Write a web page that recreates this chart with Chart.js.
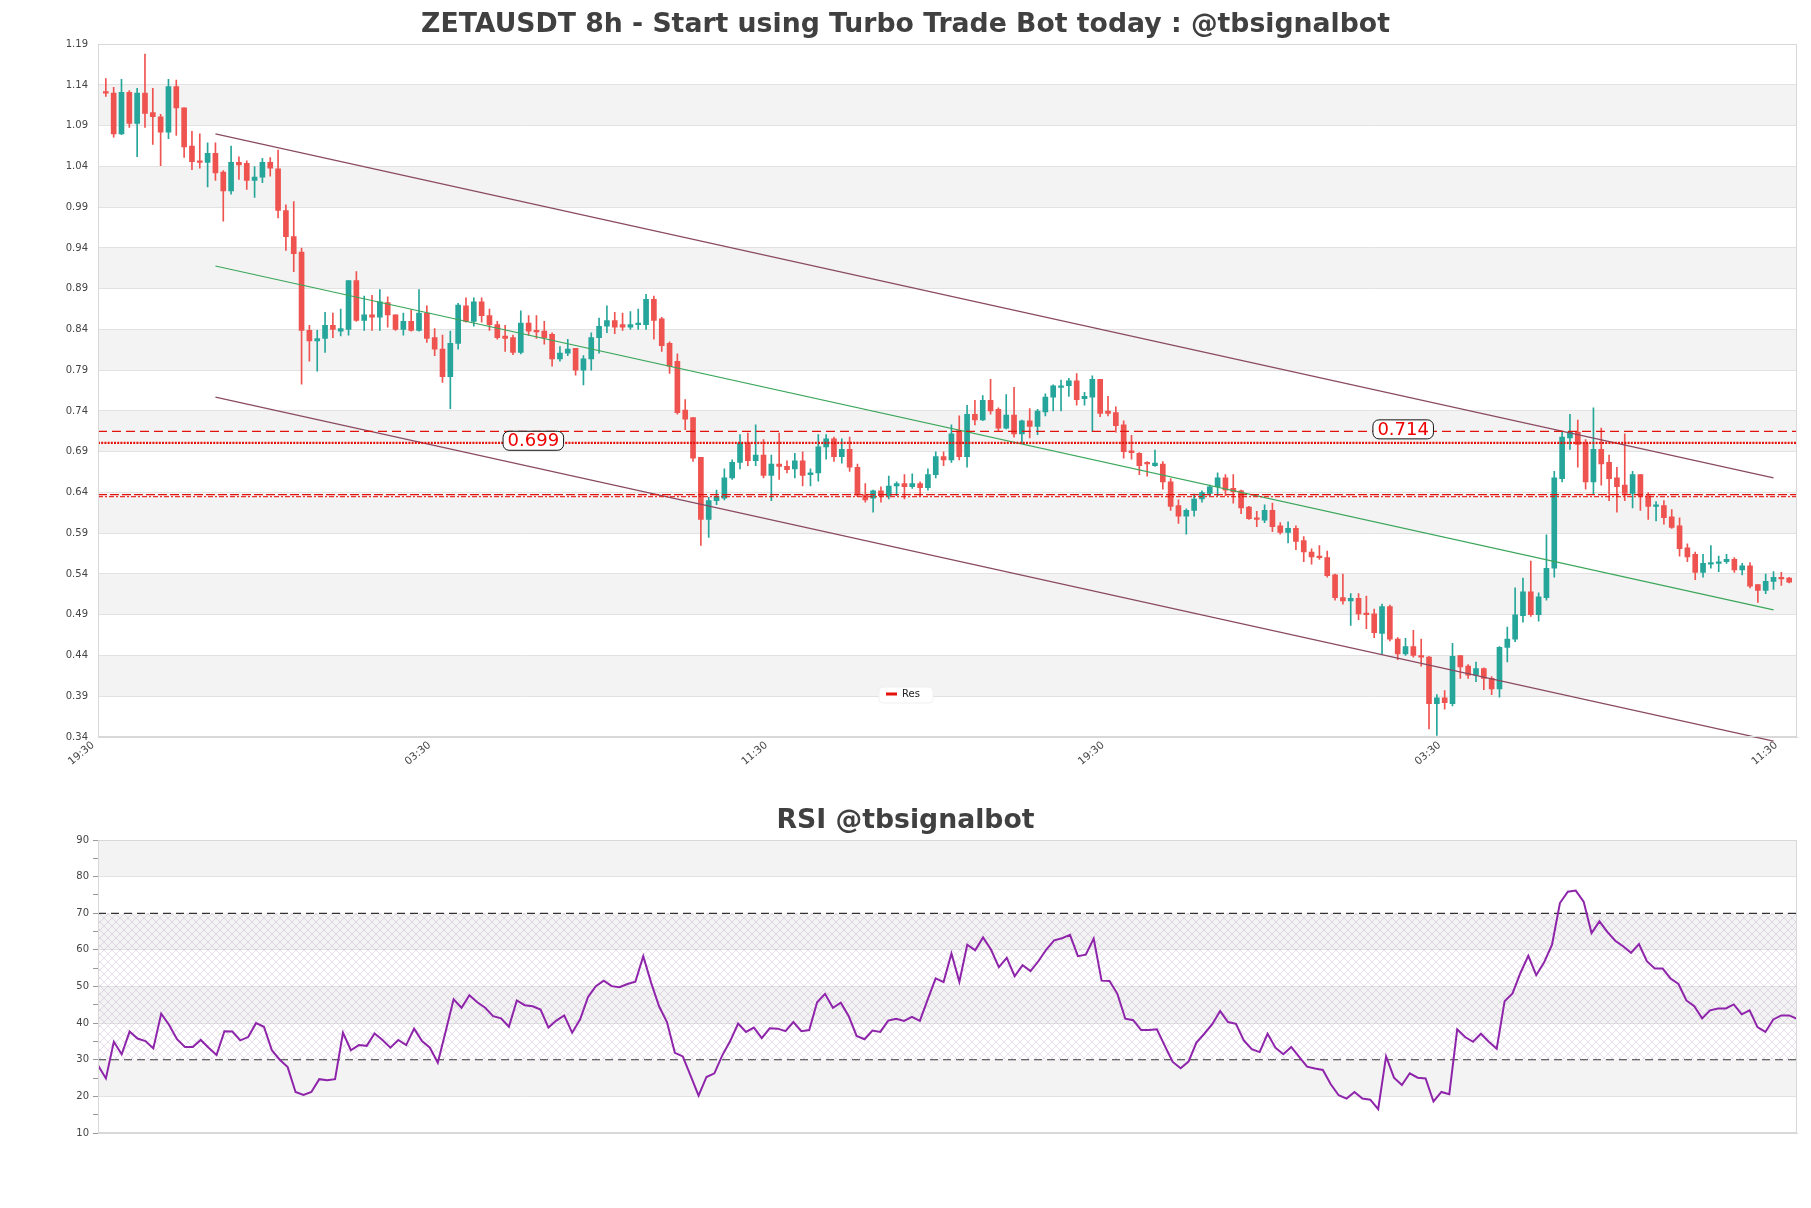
<!DOCTYPE html>
<html><head><meta charset="utf-8">
<script src="https://cdn.jsdelivr.net/npm/chart.js@4.4.1/dist/chart.umd.min.js"></script>
<style>
html,body{margin:0;padding:0;background:#fff;}
body{width:1811px;height:1208px;position:relative;overflow:hidden;}
#c1{position:absolute;left:0;top:0;}
#c2{position:absolute;left:0;top:790px;}
</style></head><body>
<canvas id="c1" width="1811" height="800"></canvas>
<canvas id="c2" width="1811" height="418"></canvas>
<script>
const TITLE_MAIN = 'ZETAUSDT 8h - Start using Turbo Trade Bot today : @tbsignalbot';
const TITLE_RSI = 'RSI @tbsignalbot';
const xTickIndex = [-1, 42, 85, 128, 171, 214];
const xTickLabels = ['19:30','03:30','11:30','19:30','03:30','11:30'];
const priceTicks = [0.34,0.39,0.44,0.49,0.54,0.59,0.64,0.69,0.74,0.79,0.84,0.89,0.94,0.99,1.04,1.09,1.14,1.19];
const rsiTicks = [10,20,30,40,50,60,70,80,90];
const rsiMinorTicks = [15,25,35,45,55,65,75,85];

const opens = [1.131,1.130,1.080,1.131,1.093,1.130,1.106,1.101,1.082,1.138,1.112,1.065,1.047,1.045,1.056,1.033,1.010,1.045,1.044,1.023,1.027,1.045,1.037,0.986,0.954,0.935,0.839,0.826,0.829,0.845,0.838,0.840,0.900,0.851,0.858,0.855,0.873,0.858,0.840,0.850,0.839,0.860,0.830,0.816,0.782,0.823,0.869,0.850,0.874,0.857,0.846,0.832,0.830,0.812,0.848,0.839,0.838,0.834,0.804,0.811,0.817,0.790,0.804,0.830,0.844,0.851,0.846,0.843,0.846,0.846,0.877,0.853,0.823,0.801,0.741,0.732,0.683,0.607,0.630,0.633,0.658,0.677,0.701,0.679,0.686,0.661,0.675,0.672,0.669,0.679,0.662,0.664,0.696,0.706,0.684,0.693,0.671,0.637,0.633,0.642,0.636,0.648,0.651,0.647,0.651,0.646,0.662,0.684,0.680,0.716,0.684,0.736,0.729,0.753,0.742,0.719,0.735,0.712,0.728,0.721,0.739,0.757,0.769,0.771,0.777,0.755,0.757,0.779,0.740,0.738,0.723,0.691,0.688,0.677,0.673,0.675,0.653,0.624,0.611,0.618,0.632,0.639,0.647,0.658,0.645,0.642,0.622,0.609,0.606,0.618,0.599,0.591,0.596,0.581,0.567,0.562,0.560,0.539,0.511,0.507,0.510,0.492,0.491,0.467,0.500,0.460,0.442,0.451,0.440,0.438,0.381,0.388,0.381,0.440,0.427,0.416,0.424,0.412,0.399,0.450,0.460,0.489,0.518,0.490,0.511,0.547,0.657,0.707,0.714,0.701,0.653,0.693,0.677,0.658,0.649,0.639,0.662,0.636,0.623,0.624,0.610,0.599,0.572,0.564,0.542,0.552,0.553,0.555,0.558,0.545,0.550,0.527,0.520,0.531,0.536,0.535];
const highs = [1.148,1.137,1.147,1.133,1.136,1.178,1.136,1.104,1.147,1.146,1.112,1.083,1.080,1.069,1.069,1.035,1.065,1.052,1.047,1.040,1.050,1.051,1.060,0.993,0.997,0.940,0.845,0.839,0.861,0.860,0.865,0.900,0.911,0.881,0.882,0.889,0.880,0.858,0.860,0.864,0.889,0.869,0.841,0.833,0.838,0.872,0.879,0.879,0.879,0.865,0.850,0.845,0.833,0.863,0.857,0.857,0.850,0.836,0.819,0.828,0.817,0.808,0.836,0.854,0.869,0.861,0.860,0.862,0.865,0.883,0.881,0.855,0.825,0.810,0.754,0.732,0.683,0.634,0.643,0.669,0.680,0.711,0.713,0.723,0.705,0.686,0.713,0.679,0.688,0.690,0.669,0.711,0.711,0.708,0.706,0.708,0.675,0.651,0.643,0.647,0.660,0.653,0.662,0.663,0.653,0.669,0.690,0.690,0.723,0.734,0.747,0.753,0.759,0.779,0.744,0.760,0.769,0.729,0.743,0.742,0.761,0.772,0.778,0.780,0.786,0.763,0.783,0.779,0.758,0.745,0.728,0.710,0.689,0.678,0.692,0.678,0.657,0.631,0.620,0.638,0.642,0.649,0.664,0.662,0.662,0.643,0.623,0.617,0.625,0.627,0.603,0.604,0.599,0.586,0.571,0.575,0.568,0.540,0.540,0.516,0.516,0.513,0.497,0.503,0.502,0.462,0.461,0.471,0.460,0.439,0.392,0.397,0.455,0.440,0.429,0.432,0.425,0.414,0.451,0.475,0.523,0.535,0.556,0.517,0.588,0.666,0.715,0.736,0.729,0.705,0.744,0.719,0.686,0.671,0.712,0.666,0.662,0.640,0.629,0.630,0.619,0.609,0.577,0.567,0.564,0.575,0.562,0.564,0.560,0.553,0.554,0.527,0.540,0.543,0.542,0.536];
const lows = [1.126,1.076,1.079,1.088,1.052,1.088,1.067,1.041,1.074,1.078,1.051,1.036,1.038,1.015,1.023,0.973,1.006,1.024,1.012,1.002,1.020,1.028,0.977,0.937,0.911,0.773,0.801,0.789,0.812,0.830,0.832,0.833,0.850,0.839,0.839,0.839,0.843,0.839,0.833,0.838,0.838,0.824,0.808,0.775,0.743,0.816,0.849,0.844,0.849,0.839,0.828,0.813,0.809,0.810,0.833,0.829,0.822,0.795,0.801,0.808,0.784,0.772,0.790,0.811,0.836,0.835,0.839,0.840,0.840,0.840,0.828,0.813,0.786,0.736,0.717,0.678,0.575,0.585,0.625,0.631,0.656,0.669,0.673,0.673,0.658,0.630,0.656,0.664,0.658,0.648,0.648,0.654,0.681,0.678,0.676,0.666,0.635,0.628,0.616,0.628,0.632,0.636,0.632,0.645,0.636,0.643,0.658,0.673,0.677,0.680,0.671,0.723,0.728,0.736,0.715,0.718,0.708,0.700,0.707,0.711,0.734,0.740,0.740,0.758,0.747,0.747,0.715,0.733,0.734,0.714,0.682,0.681,0.662,0.660,0.672,0.644,0.618,0.602,0.589,0.611,0.628,0.636,0.636,0.636,0.627,0.614,0.607,0.598,0.603,0.592,0.589,0.578,0.570,0.555,0.552,0.558,0.536,0.508,0.503,0.477,0.484,0.473,0.462,0.442,0.458,0.435,0.440,0.438,0.427,0.350,0.342,0.374,0.378,0.412,0.412,0.408,0.398,0.392,0.389,0.432,0.457,0.481,0.488,0.482,0.508,0.536,0.653,0.693,0.671,0.644,0.638,0.649,0.630,0.616,0.630,0.621,0.618,0.607,0.605,0.601,0.596,0.562,0.555,0.533,0.536,0.547,0.543,0.553,0.542,0.539,0.523,0.505,0.516,0.521,0.526,0.529];
const closes = [1.130,1.080,1.131,1.093,1.130,1.105,1.101,1.082,1.138,1.112,1.064,1.046,1.045,1.056,1.032,1.010,1.045,1.042,1.023,1.027,1.045,1.038,0.986,0.954,0.933,0.839,0.826,0.829,0.845,0.840,0.841,0.900,0.851,0.858,0.855,0.874,0.858,0.840,0.850,0.839,0.860,0.829,0.816,0.782,0.823,0.870,0.850,0.874,0.857,0.846,0.830,0.829,0.812,0.848,0.838,0.837,0.830,0.804,0.811,0.816,0.790,0.804,0.830,0.844,0.851,0.843,0.843,0.846,0.848,0.877,0.851,0.820,0.795,0.738,0.730,0.682,0.607,0.630,0.635,0.658,0.677,0.701,0.679,0.686,0.661,0.675,0.672,0.668,0.679,0.661,0.664,0.696,0.706,0.684,0.693,0.671,0.637,0.631,0.642,0.636,0.648,0.651,0.647,0.651,0.646,0.662,0.684,0.680,0.712,0.684,0.736,0.729,0.753,0.740,0.719,0.735,0.712,0.728,0.721,0.740,0.757,0.771,0.771,0.777,0.754,0.758,0.779,0.737,0.737,0.722,0.690,0.689,0.673,0.675,0.676,0.653,0.623,0.611,0.618,0.632,0.640,0.647,0.658,0.643,0.641,0.621,0.608,0.607,0.618,0.598,0.591,0.596,0.580,0.567,0.561,0.560,0.538,0.511,0.507,0.510,0.491,0.490,0.468,0.500,0.460,0.442,0.451,0.440,0.438,0.381,0.388,0.382,0.439,0.426,0.416,0.424,0.412,0.399,0.450,0.460,0.490,0.518,0.490,0.512,0.547,0.658,0.708,0.714,0.699,0.653,0.693,0.675,0.657,0.647,0.639,0.662,0.636,0.623,0.625,0.609,0.597,0.571,0.561,0.542,0.553,0.554,0.555,0.558,0.545,0.550,0.525,0.520,0.531,0.536,0.534,0.530];
const rsi = [28.5,24.9,34.9,31.5,37.7,35.8,35.1,33.1,42.6,39.5,35.6,33.5,33.5,35.4,33.3,31.3,37.8,37.7,35.3,36.2,40.0,39.0,32.6,30.0,28.0,21.2,20.4,21.2,24.7,24.4,24.7,37.4,32.6,34.0,33.8,37.2,35.4,33.3,35.4,34.0,38.5,35.1,33.3,29.2,37.8,46.5,44.2,47.6,45.7,44.2,41.9,41.3,39.0,46.2,44.9,44.6,43.7,38.8,40.7,42.1,37.4,41.0,47.1,50.1,51.6,50.1,49.8,50.7,51.3,
58.3,51.0,44.6,40.3,31.9,30.9,25.6,20.2,25.3,26.3,31.2,35.1,39.9,37.6,38.8,35.9,38.6,38.5,37.8,40.3,37.8,38.1,45.7,48.0,44.2,45.6,41.9,36.5,35.6,38.0,37.6,40.7,41.2,40.6,41.7,40.6,46.5,52.2,51.2,59.0,51.3,61.4,59.9,63.4,60.1,55.3,57.8,52.8,55.8,54.2,56.9,60.1,62.6,63.2,64.1,58.3,58.7,63.1,51.6,51.5,48.0,41.2,40.8,38.1,38.1,38.3,33.8,29.4,27.7,29.5,34.7,37.1,39.7,43.3,40.3,
39.8,35.3,32.9,32.1,37.1,33.3,31.5,33.5,30.8,28.1,27.6,27.2,23.3,20.3,19.4,21.2,19.4,19.1,16.5,30.9,25.1,23.1,26.3,25.1,24.9,18.6,21.2,20.6,38.3,36.2,34.9,37.1,34.9,33.0,46.0,48.1,53.7,58.4,53.1,56.6,61.4,72.8,75.9,76.2,73.2,64.6,67.8,64.9,62.5,61.0,59.2,61.6,56.9,54.9,54.9,52.2,50.7,46.2,44.6,41.3,43.5,44.0,44.0,45.1,42.4,43.5,38.9,37.6,41.0,42.1,42.1,41.2];

const channelX = [14, 213];
const channelUpperY = [1.080, 0.658];
const channelMidY = [0.918, 0.496];
const channelLowerY = [0.757, 0.335];

const resLevel = 0.701;
const dashedLevel = 0.715;
const supportLevels = [0.6375, 0.6350];
const levelLabelText = ['0.699', '0.714'];
const levelLabelIdx = [54.6, 165.7];
const levelLabelValue = [0.701, 0.715];

const UP = '#26a69a', DOWN = '#ef5350', RED = '#e3120b';
const N = closes.length;
Chart.defaults.font.family = '"DejaVu Sans", sans-serif';

const candleColors = opens.map((o, i) => closes[i] >= o ? UP : DOWN);
const hLine = (v) => [{x: -1, y: v}, {x: N, y: v}];
const seg = (ys) => channelX.map((x, i) => ({x, y: ys[i]}));

const bandsPlugin = {
  id: 'bands',
  beforeDraw(chart, args, opts) {
    const {ctx, chartArea: ca, scales: {y}} = chart;
    const t = opts.ticks;
    ctx.save();
    ctx.fillStyle = opts.color;
    for (let k = 1; k < t.length - 1; k += 2) {
      const yTop = y.getPixelForValue(t[k + 1]), yBot = y.getPixelForValue(t[k]);
      ctx.fillRect(ca.left, yTop, ca.width, yBot - yTop);
    }
    ctx.restore();
  },
  afterDraw(chart) {
    const {ctx, chartArea: ca} = chart;
    ctx.save();
    ctx.strokeStyle = '#d8d8d8';
    ctx.lineWidth = 1;
    ctx.strokeRect(Math.round(ca.left) + 0.5, Math.round(ca.top) + 0.5, Math.round(ca.width) - 1, Math.round(ca.height) - 1);
    ctx.restore();
  }
};

const levelLabelPlugin = {
  id: 'levelLabels',
  afterDatasetsDraw(chart) {
    const {ctx, scales: {x, y}} = chart;
    ctx.save();
    ctx.font = '18px "DejaVu Sans"';
    levelLabelText.forEach((txt, i) => {
      const px = x.getPixelForValue(levelLabelIdx[i]);
      const py = y.getPixelForValue(levelLabelValue[i]) - 2;
      const tw = ctx.measureText(txt).width;
      const w = tw + 9, h = 19;
      ctx.beginPath();
      ctx.roundRect(px - w / 2, py - h / 2, w, h, 6);
      ctx.fillStyle = '#fff';
      ctx.fill();
      ctx.strokeStyle = '#111';
      ctx.lineWidth = 1;
      ctx.stroke();
      ctx.fillStyle = '#ee0000';
      ctx.textAlign = 'center';
      ctx.textBaseline = 'middle';
      ctx.fillText(txt, px, py + 1);
    });
    ctx.restore();
  }
};

const LEGEND_H = 16;
const legendPlace = {
  id: 'legendPlace',
  afterLayout(chart) {
    const lg = chart.legend, ca = chart.chartArea;
    if (!lg) return;
    const w = lg.width;
    lg.left = ca.left + 785;
    lg.right = lg.left + w;
    lg.top = ca.bottom - 42 - 9;
    lg.height = LEGEND_H + 4;
    lg.bottom = lg.top + lg.height;
  },
  afterDatasetsDraw(chart) {
    const lg = chart.legend, ctx = chart.ctx, ca = chart.chartArea;
    if (!lg) return;
    const cy = ca.bottom - 42, cx = ca.left + 808;
    ctx.save();
    ctx.beginPath();
    ctx.roundRect(cx - 27, cy - LEGEND_H / 2, 54, LEGEND_H, 4);
    ctx.fillStyle = 'rgba(255,255,255,0.96)';
    ctx.fill();
    ctx.strokeStyle = '#f0f0f0';
    ctx.stroke();
    ctx.restore();
    lg.draw();
  }
};

new Chart(document.getElementById('c1'), {
  type: 'bar',
  data: {
    datasets: [
      {type: 'line', label: 'Res', data: hLine(resLevel), borderColor: RED, borderWidth: 2.2, borderDash: [2, 1.2], pointRadius: 0, order: 0},
      {type: 'line', label: 'lvl', data: hLine(dashedLevel), borderColor: RED, borderWidth: 1.4, borderDash: [9, 5], pointRadius: 0, order: 0},
      {type: 'line', label: 'sup1', data: hLine(supportLevels[0]), borderColor: RED, borderWidth: 1.2, borderDash: [9, 3], pointRadius: 0, order: 0},
      {type: 'line', label: 'sup2', data: hLine(supportLevels[1]), borderColor: 'rgba(227,18,11,0.85)', borderWidth: 1.2, borderDash: [5, 2, 2, 2], pointRadius: 0, order: 0},
      {type: 'line', label: 'up', data: seg(channelUpperY), borderColor: '#8a4a62', borderWidth: 1.2, pointRadius: 0, order: 0},
      {type: 'line', label: 'mid', data: seg(channelMidY), borderColor: '#3aa65a', borderWidth: 1.1, pointRadius: 0, order: 0},
      {type: 'line', label: 'low', data: seg(channelLowerY), borderColor: '#8a4a62', borderWidth: 1.2, pointRadius: 0, order: 0, clip: false},
      {type: 'bar', label: 'body', data: opens.map((o, i) => ({x: i, y: [o, closes[i]]})), backgroundColor: candleColors, borderWidth: 0, barThickness: 5, minBarLength: 1.5, grouped: false, order: 1},
      {type: 'bar', label: 'wick', data: lows.map((l, i) => ({x: i, y: [l, highs[i]]})), backgroundColor: candleColors, borderWidth: 0, barThickness: 1, grouped: false, order: 2}
    ]
  },
  options: {
    responsive: false, animation: false, devicePixelRatio: 1, events: [],
    layout: {padding: {left: 14, right: 14, top: 0, bottom: 0}},
    scales: {
      x: {
        type: 'linear', min: -1, max: N, offset: false,
        grid: {display: false, offset: false},
        border: {display: true, color: '#d8d8d8'},
        afterBuildTicks: s => { s.ticks = xTickIndex.map(v => ({value: v})); },
        ticks: {autoSkip: false, minRotation: 40, maxRotation: 40, padding: -6, labelOffset: -5, color: '#444', font: {size: 10.5},
          callback: (v, i) => xTickLabels[i]},
        afterFit: s => { s.height = 63; }
      },
      y: {
        type: 'linear', min: priceTicks[0], max: priceTicks[priceTicks.length - 1], beginAtZero: false,
        afterBuildTicks: s => { s.ticks = priceTicks.map(v => ({value: v})); },
        ticks: {padding: 10, color: '#444', font: {size: 10}, callback: v => Number(v).toFixed(2)},
        grid: {color: '#e2e2e2', drawTicks: false},
        border: {color: '#d8d8d8'},
        afterFit: s => { s.width = 84; }
      }
    },
    plugins: {
      title: {display: true, text: TITLE_MAIN, color: '#404040', font: {size: 26.7, weight: 'bold'}, padding: {top: 9.2, bottom: 3}},
      legend: {
        display: true, position: 'chartArea', align: 'start',
        labels: {
          usePointStyle: true, pointStyleWidth: 11, boxHeight: 6, padding: 3, color: '#222', font: {size: 10},
          generateLabels: () => [{text: 'Res', fillStyle: RED, strokeStyle: RED, lineWidth: 3, pointStyle: 'line', lineDash: [], hidden: false, datasetIndex: 0, fontColor: '#222'}]
        }
      },
      tooltip: {enabled: false},
      bands: {ticks: priceTicks, color: '#f3f3f3'}
    }
  },
  plugins: [bandsPlugin, levelLabelPlugin, legendPlace]
});

// RSI chart
const hatch = (() => {
  const c = document.createElement('canvas');
  c.width = 8; c.height = 8;
  const g = c.getContext('2d');
  g.strokeStyle = 'rgba(170,140,190,0.35)';
  g.lineWidth = 0.8;
  g.beginPath();
  g.moveTo(0, 0); g.lineTo(8, 8);
  g.moveTo(8, 0); g.lineTo(0, 8);
  g.stroke();
  return g.createPattern(c, 'repeat');
})();
const rsiAllTicks = rsiTicks.concat(rsiMinorTicks).sort((a, b) => a - b);
const RN = rsi.length;

new Chart(document.getElementById('c2'), {
  type: 'line',
  data: {
    datasets: [
      {label: 'RSI', data: rsi.map((v, i) => ({x: i, y: v})), borderColor: '#8e24aa', borderWidth: 2, pointRadius: 0, tension: 0, order: 0},
      {label: 'ob', data: [{x: 0, y: 70}, {x: RN - 1, y: 70}], borderColor: '#333', borderWidth: 1.2, borderDash: [8, 5], pointRadius: 0, fill: '+1', backgroundColor: hatch, order: 1},
      {label: 'os', data: [{x: 0, y: 30}, {x: RN - 1, y: 30}], borderColor: '#333', borderWidth: 1.2, borderDash: [8, 5], pointRadius: 0, fill: false, order: 1}
    ]
  },
  options: {
    responsive: false, animation: false, devicePixelRatio: 1, events: [],
    layout: {padding: {left: 14, right: 14, top: 0, bottom: 75}},
    scales: {
      x: {type: 'linear', min: 0, max: RN - 1, ticks: {display: false}, grid: {display: false}, border: {display: true, color: '#d8d8d8'},
        afterFit: s => { s.height = 0; }},
      y: {
        type: 'linear', min: 10, max: 90,
        afterBuildTicks: s => { s.ticks = rsiAllTicks.map(v => ({value: v})); },
        ticks: {autoSkip: false, padding: 4, color: '#444', font: {size: 10}, callback: v => rsiTicks.includes(v) ? String(v) : ''},
        grid: {
          color: c => (c.tick && rsiTicks.includes(c.tick.value) && c.tick.value !== 70 && c.tick.value !== 30) ? '#e2e2e2' : 'rgba(0,0,0,0)',
          tickColor: '#999', tickLength: 5, drawTicks: true
        },
        border: {color: '#d8d8d8'},
        afterFit: s => { s.width = 84; }
      }
    },
    plugins: {
      title: {display: true, text: TITLE_RSI, color: '#404040', font: {size: 26.7, weight: 'bold'}, padding: {top: 15, bottom: 3}},
      legend: {display: false},
      tooltip: {enabled: false},
      bands: {ticks: rsiTicks, color: '#f3f3f3'}
    }
  },
  plugins: [bandsPlugin]
});
</script>
</body></html>
